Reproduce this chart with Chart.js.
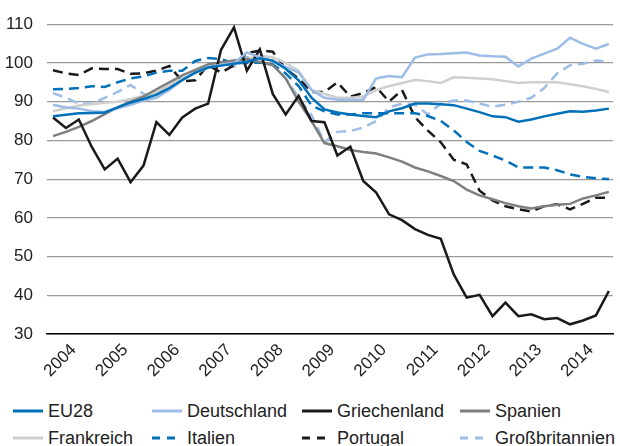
<!DOCTYPE html>
<html>
<head>
<meta charset="utf-8">
<script src="https://cdn.jsdelivr.net/npm/chart.js@4"></script>
<style>
  body { margin: 0; background: #fff; }
  #wrap { position: relative; width: 620px; height: 446px; font-family: "Liberation Sans", Arial, sans-serif; }
  #box { position: absolute; left: 0; top: 0; width: 620px; height: 395px; }
  .leg { position: absolute; display: flex; align-items: center; font-size: 18px; color: #222; white-space: nowrap; }
  .leg svg { margin-right: 5px; }
</style>
</head>
<body>
<div id="wrap">
  <div id="box"><canvas id="c"></canvas></div>
</div>
<script>
// Jahre (Quartalswerte, 2004 Q1 bis 2014 Q4)
let years = [2004, 2005, 2006, 2007, 2008, 2009, 2010, 2011, 2012, 2013, 2014]

let eu28 = [86.2, 86.6, 87, 87.1, 87.2, 88.5, 89.8, 90.7, 91.8, 93.5, 95.6, 97.5,
    98.8, 99.3, 99.8, 100.3, 101.2, 100.6, 98.5, 95.5, 91, 88, 87.2, 86.7,
    86.3, 86, 87.5, 88.3, 89.5, 89.5, 89.3, 89.1, 88.2, 87.3, 86.2, 86,
    84.8, 85.4, 86.2, 86.9, 87.5, 87.4, 87.7, 88.2]
let deutschland = [89.2, 88.5, 88.2, 87.5, 87.3, 88.3, 89.2, 90.3, 91, 93, 95.5, 97.5,
    99, 99.5, 100, 102.7, 101.5, 100.5, 99, 97.5, 93, 91, 90.5, 90.5,
    90.5, 96, 96.6, 96.3, 101.4, 102.2, 102.3, 102.5, 102.7, 101.9, 101.7, 101.6,
    99.1, 101.1, 102.4, 103.7, 106.5, 104.9, 103.7, 104.9]
let griechenland = [85.9, 83.2, 85.4, 78.3, 72.5, 75.3, 69.2, 73.5, 84.7, 81.4, 85.9, 88.2,
    89.5, 103.4, 109.2, 98, 103.5, 92, 86.7, 91.5, 85, 84.7, 76.1, 78.4,
    69.5, 66.5, 60.9, 59.4, 57.1, 55.6, 54.6, 45.4, 39.4, 40.1, 34.6, 38.1,
    34.6, 35.1, 33.8, 34.1, 32.5, 33.5, 34.8, 41.1]
let spanien = [81.1, 82.2, 83.5, 85, 86.8, 88.5, 90, 91.3, 93.2, 95, 96.8, 98.2,
    99.6, 100.2, 100.6, 101, 100.2, 99.4, 96, 90, 85, 79.3, 78.5, 77.5,
    77, 76.6, 75.6, 74.5, 73, 72, 70.8, 69.5, 67.3, 65.8, 64.8, 63.8,
    63, 62.4, 63, 63.4, 63.6, 65, 65.8, 66.7]
let frankreich = [87.5, 88.3, 89, 89.3, 89.7, 90, 90.7, 91.5, 92.5, 94.2, 96, 97.3,
    98.7, 99.7, 100.1, 101, 101.9, 101.4, 100, 98, 93, 92, 91, 91,
    91.3, 93, 94, 94.8, 95.6, 95.3, 94.8, 96.3, 96.2, 96, 95.8, 95.3,
    94.8, 95, 95, 95, 94.5, 94, 93.3, 92.5]
let italien = [93.2, 93.3, 93.5, 94, 93.8, 95, 96, 96.5, 97.5, 98, 98, 100.5,
    101.3, 101, 100, 100, 100.1, 99.6, 97.3, 94, 89, 87.5, 86.7, 86.7,
    87, 87, 87, 87, 87, 86.3, 85, 82.6, 79.6, 77.3, 76.1, 74.8,
    73, 73, 73, 72.3, 71.2, 70.6, 70.2, 70]
let portugal = [98.1, 97.3, 96.9, 98.6, 98.4, 98.4, 97.2, 97.3, 98, 99.2, 95.3, 95.5,
    99.4, 97.5, 99.4, 102.5, 103.2, 102.9, 98.5, 96, 92.5, 92.5, 95, 91.3,
    92.2, 93.8, 90, 93, 86, 82.5, 79.5, 75, 73.8, 67, 64.5, 63,
    62.2, 61.6, 63, 63.5, 62.2, 63.6, 65.2, 65.2]
let grossbritannien = [92.2, 91, 89.5, 89.5, 91, 92.5, 94.3, 92, 91.3, 93.5, 95.6, 97.5,
    99, 100, 99, 101.5, 101, 99.5, 96, 91, 86.5, 79.5, 82.2, 82.4,
    83.3, 85, 88.5, 89.5, 89.2, 86.7, 89.5, 90.3, 90.3, 89.5, 88.7, 89.2,
    90, 91, 93.5, 97.3, 99.4, 99.8, 100.6, 100.3]

let yTicks = [30, 40, 50, 60, 70, 80, 90, 100, 110]

let blue = '#0070b8'
let lightBlue = '#9dbde6'
let black = '#1a1a1a'

// Quartal -> Jahr als Zahl
function points(values) {
    return values.map((v, i) => ({ x: years[0] + i / 4, y: v }))
}

let series = [
    { label: 'EU28', data: eu28, color: blue, dash: [] },
    { label: 'Deutschland', data: deutschland, color: lightBlue, dash: [] },
    { label: 'Griechenland', data: griechenland, color: black, dash: [] },
    { label: 'Spanien', data: spanien, color: '#7f7f7f', dash: [] },
    { label: 'Frankreich', data: frankreich, color: '#cfcfcf', dash: [] },
    { label: 'Italien', data: italien, color: blue, dash: [10, 6] },
    { label: 'Portugal', data: portugal, color: black, dash: [10, 6] },
    { label: 'Großbritannien', data: grossbritannien, color: lightBlue, dash: [10, 6] }
]

let font = { family: '"Liberation Sans", Arial, sans-serif', size: 17 }

let chart = new Chart(document.getElementById('c'), {
    type: 'line',
    data: {
        datasets: series.map(s => ({
            label: s.label,
            data: points(s.data),
            borderColor: s.color,
            backgroundColor: s.color,
            borderDash: s.dash,
            borderWidth: 2.5,
            pointRadius: 0,
            tension: 0
        }))
    },
    options: {
        responsive: true,
        maintainAspectRatio: false,
        animation: false,
        layout: { padding: { top: 18, right: 7, left: 0, bottom: 0 } },
        plugins: { legend: { display: false }, tooltip: { enabled: false } },
        scales: {
            x: {
                type: 'linear',
                min: 2003.884,
                max: 2014.83,
                grid: { display: false, drawTicks: false },
                border: { display: true, color: '#000', width: 1.5 },
                afterBuildTicks: s => { s.ticks = years.map(y => ({ value: y + 0.4 })) },
                afterFit: s => { s.height = 61 },
                ticks: {
                    font: font,
                    color: '#222',
                    minRotation: 45,
                    maxRotation: 45,
                    autoSkip: false,
                    padding: 6,
                    callback: v => String(Math.floor(v))
                }
            },
            y: {
                min: 30,
                max: 110,
                grid: { color: '#9a9a9a', lineWidth: 1.2, drawTicks: false },
                border: { display: false },
                afterBuildTicks: s => { s.ticks = yTicks.map(v => ({ value: v })) },
                afterFit: s => { s.width = 47 },
                ticks: { font: font, color: '#222', padding: 14 }
            }
        }
    }
})

// Legende in zwei Reihen, vier Spalten
let cols = [13, 152, 302, 460]
let rows = [411, 438]
let wrap = document.getElementById('wrap')
series.forEach((s, i) => {
    let d = document.createElement('div')
    d.className = 'leg'
    d.style.left = cols[i % 4] + 'px'
    d.style.top = (rows[Math.floor(i / 4)] - 12) + 'px'
    d.style.height = '24px'
    let dash = s.dash.length ? 'stroke-dasharray="8 7"' : ''
    d.innerHTML = '<svg width="30" height="6"><line x1="0" y1="3" x2="30" y2="3" stroke="' + s.color +
        '" stroke-width="3" ' + dash + '/></svg><span>' + s.label + '</span>'
    wrap.appendChild(d)
})
</script>
</body>
</html>
